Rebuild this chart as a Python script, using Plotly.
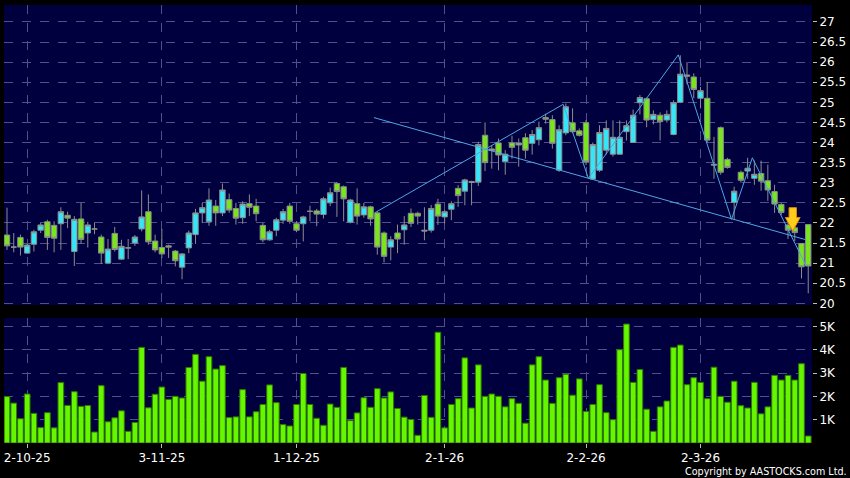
import plotly.graph_objects as go
from plotly.subplots import make_subplots

# ---------------- data ----------------
opens = [21.70, 21.40, 21.64, 21.25, 21.47, 21.82, 22.03, 21.94, 21.98, 22.19,
         21.29, 22.10, 21.75, 21.85, 21.65, 21.00, 21.74, 21.10, 21.38, 21.50,
         21.85, 22.28, 21.55, 21.39, 21.43, 21.30, 20.90, 21.38, 21.71, 22.25,
         22.03, 22.42, 22.25, 22.58, 22.36, 22.13, 22.48, 22.42, 21.94, 21.58,
         21.82, 22.07, 22.42, 21.98, 21.98, 22.29, 22.30, 22.21, 22.50, 22.98,
         22.90, 22.02, 22.48, 22.20, 22.40, 22.25, 21.75, 21.40, 21.75, 21.83,
         22.24, 22.24, 21.82, 21.82, 22.47, 22.15, 22.34, 22.86, 22.79, 23.03,
         23.02, 24.18, 23.84, 23.99, 23.52, 23.99, 23.94, 24.12, 23.98, 24.07,
         24.62, 24.57, 23.31, 24.24, 24.49, 24.29, 24.49, 23.09, 23.31, 23.81,
         23.71, 23.71, 24.27, 24.00, 24.99, 25.09, 24.57, 24.68, 24.56, 24.20,
         25.00, 25.68, 25.63, 25.10, 25.10, 23.46, 24.37, 23.58, 22.51, 23.26,
         23.29, 23.11, 23.23, 23.05, 22.78, 22.46, 21.95, 21.88, 21.49, 21.96]
highs = [22.38, 21.75, 21.71, 21.48, 21.83, 22.00, 22.08, 22.04, 22.39, 22.28,
         22.17, 22.50, 22.03, 22.00, 21.71, 21.60, 21.90, 21.58, 21.60, 21.70,
         22.81, 22.71, 21.71, 21.85, 21.46, 21.33, 21.25, 21.81, 22.35, 22.50,
         22.86, 22.57, 22.98, 22.73, 22.50, 22.54, 22.71, 22.60, 22.00, 21.83,
         22.13, 22.35, 22.50, 22.04, 22.18, 22.43, 22.35, 22.65, 22.88, 23.02,
         22.93, 22.60, 22.86, 22.50, 22.43, 22.29, 21.79, 21.67, 21.96, 22.17,
         22.36, 22.28, 22.39, 22.45, 22.60, 22.32, 22.54, 22.94, 23.10, 23.05,
         24.02, 24.50, 23.93, 24.10, 23.81, 24.17, 24.10, 24.23, 24.31, 24.52,
         24.72, 24.68, 24.43, 24.97, 24.85, 24.35, 24.56, 24.00, 24.43, 24.55,
         24.55, 24.55, 24.55, 24.82, 25.18, 25.12, 24.80, 24.75, 24.80, 25.05,
         26.17, 26.00, 25.72, 25.38, 25.50, 24.14, 24.40, 23.62, 22.90, 23.30,
         23.62, 23.55, 23.55, 23.45, 22.95, 22.50, 22.05, 21.92, 21.49, 21.96]
lows = [21.33, 21.27, 21.19, 21.23, 21.29, 21.75, 21.33, 21.27, 21.33, 21.87,
        20.93, 21.48, 21.39, 21.72, 20.98, 20.98, 21.29, 21.08, 21.10, 21.43,
        21.79, 21.46, 21.27, 21.13, 21.13, 20.92, 20.60, 21.25, 21.48, 22.00,
        21.93, 21.93, 22.17, 22.25, 21.96, 21.98, 22.17, 22.04, 21.52, 21.56,
        21.67, 21.98, 21.98, 21.77, 21.54, 22.04, 21.92, 22.11, 22.42, 22.15,
        22.04, 21.99, 21.96, 22.13, 21.93, 21.21, 21.02, 21.07, 21.25, 21.46,
        21.90, 21.96, 21.57, 21.76, 21.95, 21.99, 22.07, 22.40, 22.44, 22.44,
        22.92, 23.29, 23.35, 23.31, 23.20, 23.60, 23.40, 23.60, 23.70, 23.93,
        24.47, 23.85, 23.27, 24.18, 24.23, 24.15, 23.44, 23.07, 23.27, 23.70,
        23.65, 23.70, 24.05, 24.00, 24.70, 24.38, 24.45, 24.05, 24.50, 24.18,
        24.98, 25.45, 25.10, 24.85, 24.00, 23.10, 23.20, 23.35, 22.07, 23.00,
        23.10, 22.95, 22.80, 22.55, 22.25, 22.20, 21.60, 21.55, 20.62, 20.25]
closes = [21.43, 21.40, 21.40, 21.45, 21.78, 21.95, 21.64, 21.62, 22.28, 22.12,
          22.09, 21.59, 21.95, 21.85, 21.25, 21.35, 21.34, 21.42, 21.38, 21.65,
          22.15, 21.53, 21.33, 21.23, 21.40, 21.06, 21.23, 21.75, 22.25, 22.38,
          22.57, 22.25, 22.82, 22.32, 22.12, 22.47, 22.39, 22.23, 21.58, 21.78,
          22.08, 22.28, 22.04, 21.82, 22.15, 22.29, 22.22, 22.60, 22.75, 22.78,
          22.60, 22.57, 22.17, 22.40, 22.10, 21.40, 21.17, 21.58, 21.60, 21.95,
          21.99, 22.17, 21.80, 22.36, 22.17, 22.28, 22.48, 22.68, 23.07, 23.01,
          23.95, 23.50, 23.80, 23.69, 23.71, 23.88, 23.99, 23.81, 24.20, 24.37,
          24.58, 23.98, 24.32, 24.89, 24.27, 24.18, 23.52, 23.95, 24.25, 24.35,
          24.13, 24.13, 24.42, 24.68, 25.12, 24.56, 24.70, 24.52, 24.70, 24.99,
          25.70, 25.65, 25.32, 25.29, 24.06, 23.44, 23.26, 23.38, 22.79, 23.06,
          23.36, 23.21, 23.04, 22.82, 22.47, 22.26, 21.82, 21.76, 20.91, 20.93]
volumes = [1990, 1710, 1040, 2100, 1270, 660, 1300, 650, 2590, 1610,
           2200, 1570, 1610, 470, 2460, 910, 1080, 1380, 500, 880,
           4100, 1510, 2090, 2400, 1870, 2000, 1930, 3240, 3800, 2650,
           3700, 3170, 3320, 1090, 1120, 2290, 1120, 1340, 1650, 2490,
           1730, 790, 730, 1650, 2980, 1650, 1060, 760, 1670, 1530,
           3240, 960, 1290, 1940, 1530, 2330, 1930, 2190, 1480, 1110,
           1010, 330, 2040, 1100, 4750, 650, 1650, 1900, 3650, 1500,
           3350, 2000, 2100, 2000, 1550, 1900, 1700, 850, 3350, 3700,
           2700, 1700, 2800, 2950, 2050, 2750, 1350, 1650, 2500, 1300,
           1000, 4000, 5100, 2600, 3150, 1450, 500, 1550, 1800, 4100,
           4200, 2500, 2800, 2600, 1900, 3250, 2000, 1750, 2650, 1600,
           1500, 2600, 1250, 1550, 2900, 2700, 2900, 2700, 3400, 300]

tick_idx = [3, 23, 43, 65, 86, 103]
tick_labels = ["2-10-25", "3-11-25", "1-12-25", "2-1-26", "2-2-26", "2-3-26"]
price_ticks = [20, 20.5, 21, 21.5, 22, 22.5, 23, 23.5, 24, 24.5, 25, 25.5, 26, 26.5, 27]
vol_ticks = [1000, 2000, 3000, 4000, 5000]
vol_labels = ["1K", "2K", "3K", "4K", "5K"]

# trend lines drawn on the chart (bar index, price)
down_trend_x = [54.5, 118.7]
down_trend_y = [24.62, 21.58]
up_trend_x = [54.6, 82.6]
up_trend_y = [22.25, 24.95]
zigzag_x = [82.6, 86.35, 99.7, 107.6, 110.7, 118.7]
zigzag_y = [24.95, 23.11, 26.18, 22.09, 23.62, 20.93]
# down-arrow signal marker (bar index, top price, tip price)
arrow_x = 116.7
arrow_top = 22.38
arrow_tip = 21.80

x = list(range(len(opens)))

# ---------------- figure ----------------
fig = make_subplots(rows=2, cols=1, shared_xaxes=True)

fig.add_trace(go.Candlestick(
    x=x, open=opens, high=highs, low=lows, close=closes,
    increasing=dict(fillcolor="#36E6F6", line=dict(color="#8C8C8C", width=1)),
    decreasing=dict(fillcolor="#79E51C", line=dict(color="#8C8C8C", width=1)),
    whiskerwidth=0, showlegend=False, hoverinfo="skip"), row=1, col=1)

line_style = dict(color="#4FA6E4", width=1)
fig.add_trace(go.Scatter(x=down_trend_x, y=down_trend_y, mode="lines", line=line_style,
                         showlegend=False, hoverinfo="skip"), row=1, col=1)
fig.add_trace(go.Scatter(x=up_trend_x, y=up_trend_y, mode="lines", line=line_style,
                         showlegend=False, hoverinfo="skip"), row=1, col=1)
fig.add_trace(go.Scatter(x=zigzag_x, y=zigzag_y, mode="lines", line=line_style,
                         showlegend=False, hoverinfo="skip"), row=1, col=1)

fig.add_trace(go.Bar(x=x, y=volumes, marker=dict(color="#66F700", line=dict(color="#2C7A00", width=1)),
                     showlegend=False, hoverinfo="skip"), row=2, col=1)

# arrow shape built from the marker data
sw, hw = 0.55, 1.1
mid = arrow_top - (arrow_top - arrow_tip) * 0.42
path = (f"M {arrow_x - sw} {arrow_top} L {arrow_x + sw} {arrow_top} L {arrow_x + sw} {mid} "
        f"L {arrow_x + hw} {mid} L {arrow_x} {arrow_tip} L {arrow_x - hw} {mid} "
        f"L {arrow_x - sw} {mid} Z")
fig.add_shape(type="path", path=path, xref="x", yref="y",
              fillcolor="#FFCC1A", line=dict(color="#E08A00", width=1), layer="above")

grid = dict(showgrid=True, gridcolor="#50508A", griddash="dash", gridwidth=1, zeroline=False)
xr = [-0.444, 119.56]
fig.update_xaxes(range=xr, tickvals=tick_idx, rangeslider_visible=False, **grid)
fig.update_xaxes(showticklabels=False, ticks="", row=1, col=1)
fig.update_xaxes(ticktext=tick_labels, showticklabels=True, ticks="outside", ticklen=4,
                 tickcolor="#BBBBBB", tickfont=dict(color="white", size=12, family="DejaVu Sans"),
                 row=2, col=1)

fig.update_yaxes(side="right", ticks="outside", ticklen=4, tickcolor="#BBBBBB",
                 tickfont=dict(color="white", size=12, family="DejaVu Sans"), **grid)
fig.update_yaxes(range=[19.96, 27.42], tickvals=price_ticks,
                 ticktext=[f"{v:g}" for v in price_ticks], domain=[0.3151, 1.0], row=1, col=1)
fig.update_yaxes(range=[0, 5360], tickvals=vol_ticks, ticktext=vol_labels,
                 domain=[0.0, 0.2854], row=2, col=1)

fig.add_annotation(text="Copyright by AASTOCKS.com Ltd.", xref="paper", yref="paper",
                   x=1.0457, y=-0.066, xanchor="right", yanchor="middle", showarrow=False,
                   font=dict(color="white", size=9.6, family="DejaVu Sans"))

fig.update_layout(
    width=850, height=478,
    margin=dict(l=4, r=36, t=5, b=35),
    paper_bgcolor="#000000", plot_bgcolor="#00003F",
    bargap=0.16, boxgap=0.2, boxgroupgap=0.0,
    showlegend=False,
)

fig.write_html("out.html", config={"displayModeBar": False, "staticPlot": True},
               post_script="document.body.style.margin='0';document.body.style.background='#000';")
